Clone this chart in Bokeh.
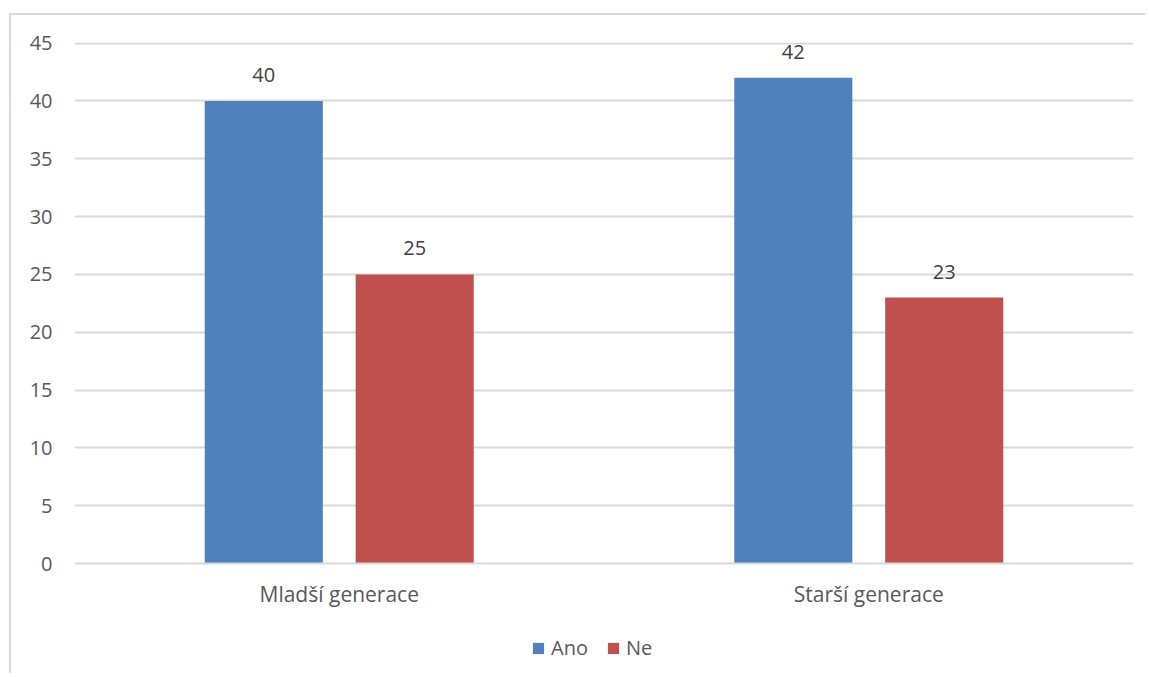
from bokeh.plotting import figure
from bokeh.layouts import column
from bokeh.models import ColumnDataSource, FactorRange, Range1d, Legend, LegendItem, LabelSet, SingleIntervalTicker
from bokeh.core.properties import value
from bokeh.transform import dodge
from bokeh.embed import file_html
from bokeh.resources import INLINE

categories = ["Mladší generace", "Starší generace"]
series_names = ["Ano", "Ne"]
ano = [40, 42]
ne = [25, 23]

FONT = "Open Sans"
TXT = "#595959"
BLUE = "#4f81bd"
RED = "#c0504d"

src = ColumnDataSource(dict(
    cat=categories, ano=ano, ne=ne,
    ano_t=[str(v) for v in ano], ne_t=[str(v) for v in ne],
))

p = figure(x_range=FactorRange(*categories), y_range=Range1d(0, 45.05),
           frame_width=1059, frame_height=521, output_backend="svg", toolbar_location=None,
           min_border_left=63, min_border_right=12, min_border_top=27, min_border_bottom=58)
p.outline_line_color = None
p.background_fill_color = "white"
p.border_fill_color = "white"

off = 0.1425
w = 0.223
p.vbar(x=dodge("cat", -off, range=p.x_range), top="ano", width=w, source=src,
       fill_color=BLUE, line_color=None)
p.vbar(x=dodge("cat", off, range=p.x_range), top="ne", width=w, source=src,
       fill_color=RED, line_color=None)

for col, o in (("ano", -off), ("ne", off)):
    lab = LabelSet(x=dodge("cat", o, range=p.x_range), y=col, text=col + "_t", source=src,
                   y_offset=26, text_align="center", text_baseline="middle",
                   text_font=value(FONT), text_font_size="20px", text_color="#404040")
    p.add_layout(lab)

p.yaxis.ticker = SingleIntervalTicker(interval=5)
p.ygrid.grid_line_color = "#d9d9d9"
p.ygrid.grid_line_width = 2
p.xgrid.grid_line_color = None
for ax in (p.xaxis, p.yaxis):
    ax.axis_line_color = None
    ax.major_tick_line_color = None
    ax.minor_tick_line_color = None
    ax.major_tick_out = 0
    ax.minor_tick_out = 0
    ax.major_label_text_font = FONT
    ax.major_label_text_font_size = "20px"
    ax.major_label_text_color = TXT
p.xaxis.major_label_text_font_size = "21px"
p.yaxis.major_label_standoff = 22
p.xaxis.major_label_standoff = 16
p.xaxis.axis_line_color = "#d9d9d9"
p.xaxis.axis_line_width = 2

# legend strip below the chart (bars here fall outside its view; only the legend shows)
p2 = figure(x_range=p.x_range, y_range=Range1d(100, 101),
            frame_width=1059, frame_height=52, output_backend="svg", toolbar_location=None,
            min_border_left=63, min_border_right=12, min_border_top=0, min_border_bottom=0,
            x_axis_location=None, y_axis_location=None)
p2.outline_line_color = None
p2.background_fill_color = "white"
p2.border_fill_color = "white"
p2.xgrid.visible = False
p2.ygrid.visible = False
l1 = p2.vbar(x=dodge("cat", -off, range=p2.x_range), top="ano", width=w, source=src,
             fill_color=BLUE, line_color=None)
l2 = p2.vbar(x=dodge("cat", off, range=p2.x_range), top="ne", width=w, source=src,
             fill_color=RED, line_color=None)

legend = Legend(items=[LegendItem(label=series_names[0], renderers=[l1]),
                       LegendItem(label=series_names[1], renderers=[l2])],
                orientation="horizontal", location=(457, 12),
                label_text_font=FONT, label_text_font_size="20px", label_text_color=TXT,
                glyph_width=14, glyph_height=14, label_standoff=6, spacing=18,
                border_line_color=None, background_fill_alpha=0, padding=0, margin=0)
p2.add_layout(legend, "center")

layout = column(p, p2, spacing=0)
layout.margin = (13, 0, 0, 9)
layout.styles = {"border-left": "2px solid #d9d9d9", "border-top": "2px solid #d9d9d9"}

open("out.html", "w").write(file_html(layout, INLINE))
